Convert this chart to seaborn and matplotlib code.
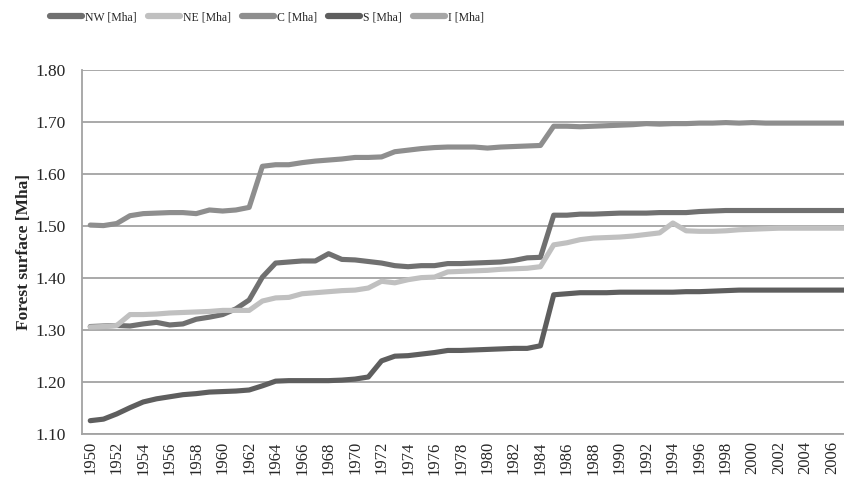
import numpy as np
import pandas as pd
import seaborn as sns
from matplotlib import pyplot as plt
from matplotlib.lines import Line2D

# data (the 2007 point is only partly visible at the right edge)
years = list(range(1950, 2008))

nw = [1.307, 1.308, 1.309, 1.308, 1.312, 1.315, 1.310, 1.312, 1.321, 1.325,
      1.330, 1.341, 1.358, 1.402, 1.429, 1.431, 1.433, 1.433, 1.447, 1.436,
      1.435, 1.432, 1.429, 1.424, 1.422, 1.424, 1.424, 1.428, 1.428, 1.429,
      1.430, 1.431, 1.434, 1.439, 1.440, 1.521, 1.521, 1.523, 1.523, 1.524,
      1.525, 1.525, 1.525, 1.526, 1.526, 1.526, 1.528, 1.529, 1.530, 1.530,
      1.530, 1.530, 1.530, 1.530, 1.530, 1.530, 1.530, 1.530]

ne = [1.306, 1.307, 1.309, 1.330, 1.330, 1.331, 1.333, 1.334, 1.335, 1.336,
      1.338, 1.338, 1.338, 1.356, 1.362, 1.363, 1.370, 1.372, 1.374, 1.376,
      1.377, 1.381, 1.394, 1.391, 1.397, 1.401, 1.402, 1.412, 1.413, 1.414,
      1.415, 1.417, 1.418, 1.419, 1.422, 1.464, 1.468, 1.474, 1.477, 1.478,
      1.479, 1.481, 1.484, 1.487, 1.506, 1.491, 1.490, 1.490, 1.491, 1.493,
      1.494, 1.495, 1.496, 1.496, 1.496, 1.496, 1.496, 1.496]

c = [1.502, 1.501, 1.505, 1.520, 1.524, 1.525, 1.526, 1.526, 1.524, 1.531,
     1.529, 1.531, 1.536, 1.615, 1.618, 1.618, 1.622, 1.625, 1.627, 1.629,
     1.632, 1.632, 1.633, 1.643, 1.646, 1.649, 1.651, 1.652, 1.652, 1.652,
     1.650, 1.652, 1.653, 1.654, 1.655, 1.692, 1.692, 1.691, 1.692, 1.693,
     1.694, 1.695, 1.697, 1.696, 1.697, 1.697, 1.698, 1.698, 1.699, 1.698,
     1.699, 1.698, 1.698, 1.698, 1.698, 1.698, 1.698, 1.698]

s = [1.126, 1.129, 1.139, 1.151, 1.162, 1.168, 1.172, 1.176, 1.178, 1.181,
     1.182, 1.183, 1.185, 1.193, 1.202, 1.203, 1.203, 1.203, 1.203, 1.204,
     1.206, 1.210, 1.241, 1.250, 1.251, 1.254, 1.257, 1.261, 1.261, 1.262,
     1.263, 1.264, 1.265, 1.265, 1.270, 1.368, 1.370, 1.372, 1.372, 1.372,
     1.373, 1.373, 1.373, 1.373, 1.373, 1.374, 1.374, 1.375, 1.376, 1.377,
     1.377, 1.377, 1.377, 1.377, 1.377, 1.377, 1.377, 1.377]

# the I series is in the legend but no line for it is visible in the chart
i_ = [np.nan] * len(years)

regions = ['NW [Mha]', 'NE [Mha]', 'C [Mha]', 'S [Mha]', 'I [Mha]']
colors = ['#707070', '#c0c0c0', '#8e8e8e', '#5e5e5e', '#a6a6a6']

df = pd.DataFrame({'year': years, regions[0]: nw, regions[1]: ne,
                   regions[2]: c, regions[3]: s, regions[4]: i_})
long_df = df.melt(id_vars='year', var_name='region', value_name='surface').dropna()

sns.set_style('white')
plt.rcParams['font.family'] = ['Liberation Serif', 'DejaVu Serif']

fig = plt.figure(figsize=(8.45, 4.83), dpi=100)
ax = fig.add_axes([0.0974, 0.101, 0.9026, 0.754])

sns.lineplot(data=long_df, x='year', y='surface', hue='region',
             hue_order=regions, palette=dict(zip(regions, colors)),
             linewidth=3.7, legend=False, ax=ax)
for ln in ax.lines:
    ln.set_solid_joinstyle('round')
    ln.set_solid_capstyle('round')

# axes, grid
ax.set_xlim(1949.4, 2007.0)
ax.set_ylim(1.10, 1.80)
ax.set_yticks(np.arange(1.10, 1.81, 0.10))
ax.set_yticklabels([f'{v:.2f}' for v in np.arange(1.10, 1.81, 0.10)], fontsize=12.5)
ax.yaxis.grid(True, color='#a3a3a3', linewidth=1.3)
ax.set_axisbelow(True)

ax.set_xticks(years[:-1][::2])
ax.set_xticklabels([str(y) for y in years[:-1][::2]], rotation=90, fontsize=12)
ax.set_xticks(np.arange(1949.5, 2007.5, 1), minor=True)
ax.tick_params(axis='x', which='major', length=0, pad=5)
ax.tick_params(axis='x', which='minor', length=4, width=1, color='#a3a3a3', direction='out')
ax.tick_params(axis='y', length=4, width=1, color='#a3a3a3', direction='out', pad=8)

for side in ['top', 'right']:
    ax.spines[side].set_visible(False)
for side in ['left', 'bottom']:
    ax.spines[side].set_color('#a3a3a3')
    ax.spines[side].set_linewidth(1.3)

ax.set_xlabel('')
ax.set_ylabel('Forest surface [Mha]', fontsize=12.5, fontweight='bold', labelpad=2)

handles = [Line2D([0], [0], color=col, linewidth=4.5, solid_capstyle='round') for col in colors]
fig.legend(handles, regions, loc='center', bbox_to_anchor=(0.316, 0.964), ncol=5,
           frameon=False, fontsize=8.5, handlelength=2.7, handletextpad=0.3,
           columnspacing=0.9)

plt.savefig('out.png', dpi=100)
